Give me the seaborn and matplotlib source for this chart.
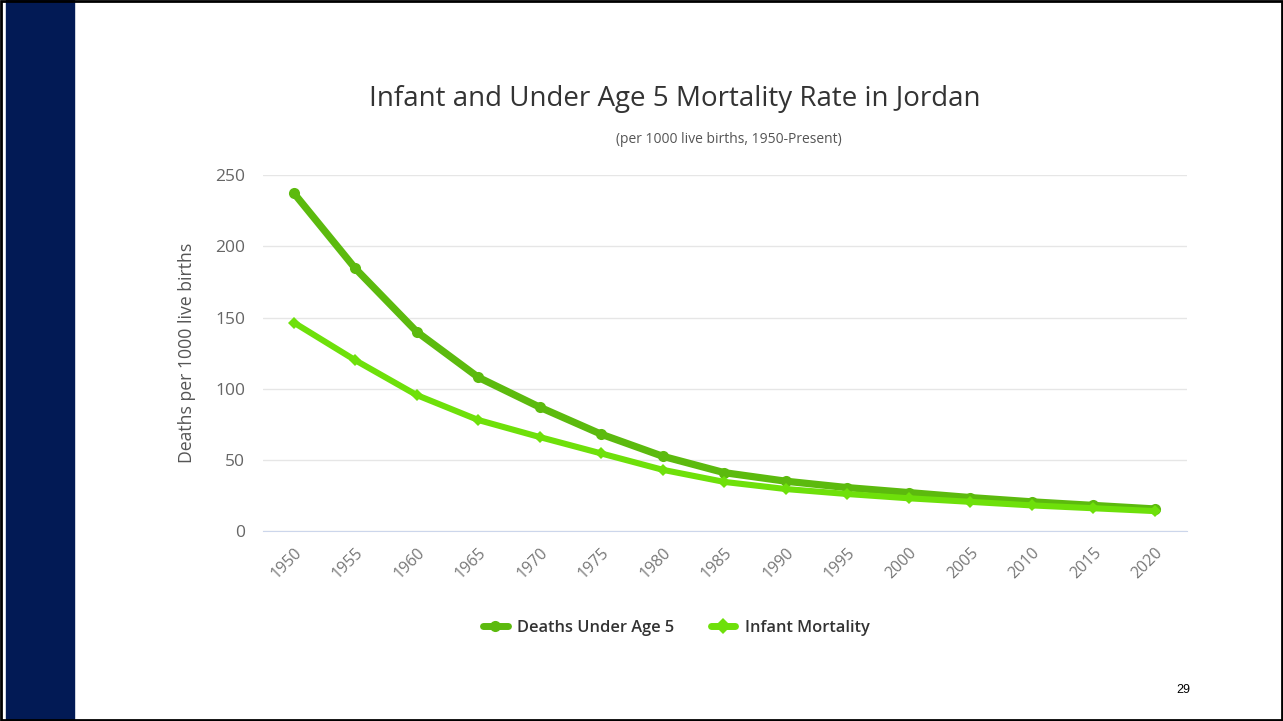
import matplotlib
matplotlib.use("Agg")
import matplotlib.pyplot as plt
import pandas as pd
import seaborn as sns
from matplotlib.patches import Rectangle

# values
years = [1950, 1955, 1960, 1965, 1970, 1975, 1980, 1985, 1990, 1995, 2000, 2005, 2010, 2015, 2020]
under5 = [237.5, 184.5, 140, 108, 87, 68, 52.5, 41, 35, 30.5, 27, 23.5, 20.5, 18, 15.5]
infant = [146.5, 120, 95.5, 78, 66, 54.5, 43, 34.5, 29.5, 26, 23, 20.5, 18, 16, 14]
series_names = ["Deaths Under Age 5", "Infant Mortality"]
y_ticks = [0, 50, 100, 150, 200, 250]

df = pd.concat([
    pd.DataFrame({"Year": years, "Rate": under5, "Series": series_names[0]}),
    pd.DataFrame({"Year": years, "Rate": infant, "Series": series_names[1]}),
])

sns.set_style("white")
plt.rcParams['font.family'] = ['Open Sans', 'DejaVu Sans']

fig = plt.figure(figsize=(12.83, 7.21), dpi=100)

# slide decoration: navy bar on the left and thin black frame
fig.patches.append(Rectangle((0.005, 0), 0.053, 1, transform=fig.transFigure,
                             color="#021a55", zorder=0))
fig.patches.append(Rectangle((0.001, 0.002), 0.998, 0.996, transform=fig.transFigure,
                             fill=False, edgecolor="black", linewidth=2, zorder=5))

ax = fig.add_axes([0.205, 0.2635, 0.72, 0.4935])
palette = {series_names[0]: "#5cba0e", series_names[1]: "#6ee00a"}
ax = sns.lineplot(data=df, x="Year", y="Rate", hue="Series", style="Series",
                  palette=palette, markers={series_names[0]: "o", series_names[1]: "D"},
                  dashes=False, linewidth=5, markersize=8, markeredgewidth=0,
                  ax=ax, zorder=3)
for line, lw in zip(ax.lines, [5.2, 4.4]):
    line.set_linewidth(lw)
ax.lines[1].set_markersize(6)

ax.set_xlim(1947.5, 2022.6)
ax.set_ylim(0, 250)
ax.set_yticks(y_ticks)
ax.set_xticks(years)
ax.set_xticklabels([str(y) for y in years], rotation=45, ha="right",
                   rotation_mode="anchor", color="#777777", fontsize=11.5)
ax.tick_params(axis="y", labelcolor="#666666", labelsize=12.5, length=0, pad=13)
ax.tick_params(axis="x", length=0, pad=10)
ax.grid(axis="y", color="#e6e6e6", linewidth=1)
for s in ["top", "right", "left"]:
    ax.spines[s].set_visible(False)
ax.spines["bottom"].set_color("#ccd6eb")
ax.set_xlabel("")
ax.set_ylabel("Deaths per 1000 live births", color="#555555", fontsize=12.7, labelpad=14)

fig.text(0.526, 0.862, "Infant and Under Age 5 Mortality Rate in Jordan",
         ha="center", va="center", fontsize=20, color="#333333")
fig.text(0.568, 0.807, "(per 1000 live births, 1950-Present)",
         ha="center", va="center", fontsize=10, color="#555555")

leg = ax.legend(loc="upper center", bbox_to_anchor=(0.4475, -0.208), ncol=2, frameon=False,
                prop={"weight": "semibold", "size": 11.8}, handlelength=1.5, columnspacing=2.2,
                handletextpad=0.6, labelcolor="#333333")

fig.text(0.922, 0.043, "29", ha="center", va="center", fontsize=9,
         family=["Liberation Sans", "DejaVu Sans"], color="black")

fig.savefig("out.png", dpi=100)
